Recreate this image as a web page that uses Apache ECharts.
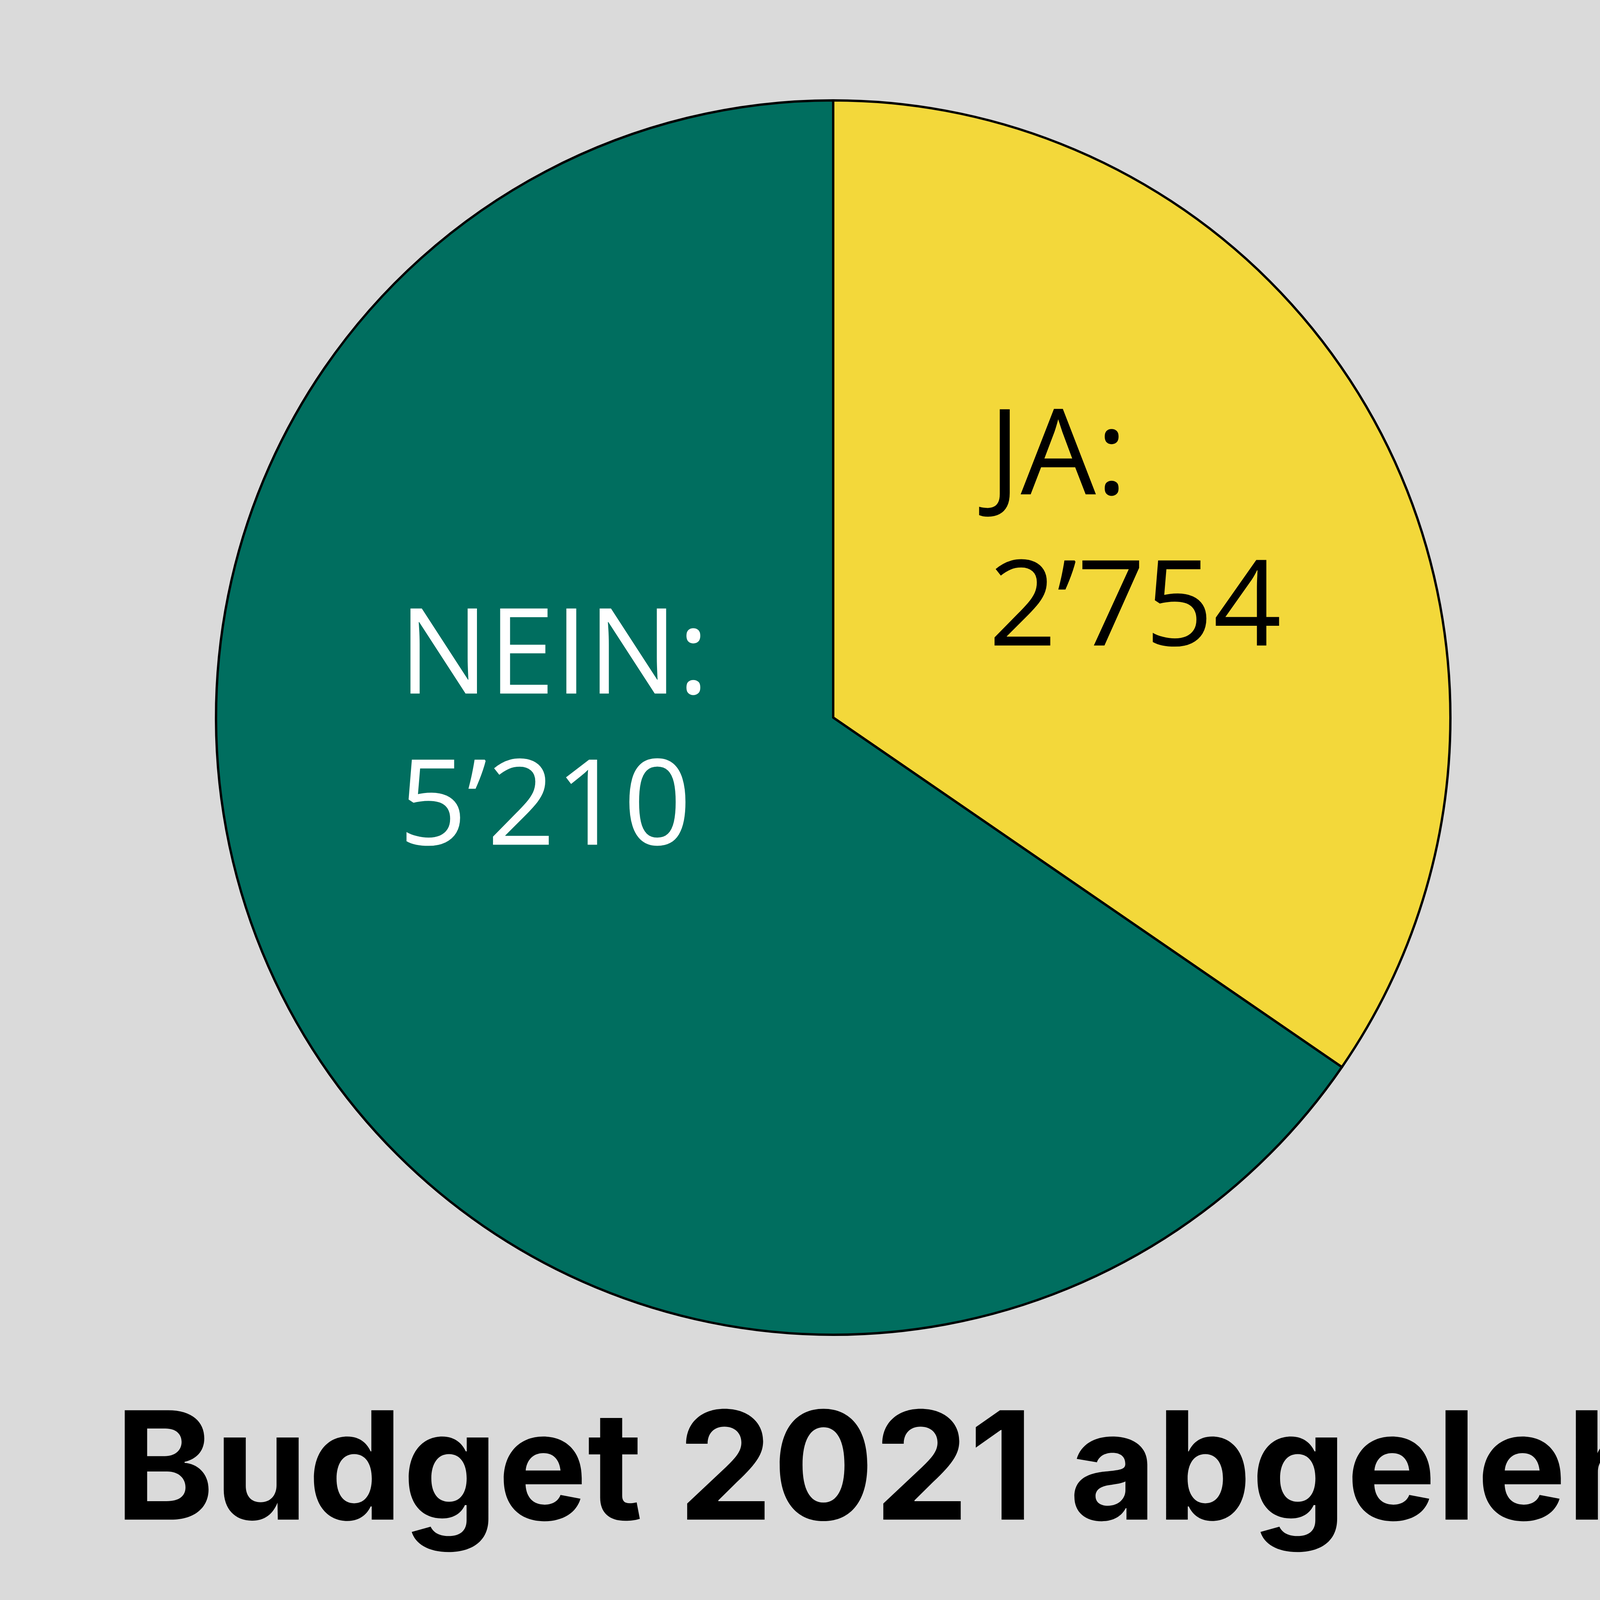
<!DOCTYPE html>
<html>
<head>
<meta charset="utf-8">
<script src="https://cdn.jsdelivr.net/npm/echarts@6/dist/echarts.min.js"></script>
<style>
html,body{margin:0;padding:0;background:#dadada;}
#chart{width:5669px;height:4252px;}
</style>
</head>
<body>
<div id="chart"></div>
<script>
const categories = ['JA', 'NEIN'];
const values = [2754, 5210];
const sliceColors = ['#f3d83a', '#006e5f'];
const labelColors = ['#000000', '#ffffff'];
const titleText = 'Budget 2021 abgelehnt';

function fmt(v) {
  return String(v).replace(/\B(?=(\d{3})+(?!\d))/g, '\u2019');
}

const labelPos = [
  { x: 2531, y: 985 },
  { x: 1021, y: 1495 }
];

const chart = echarts.init(document.getElementById('chart'), null, { renderer: 'canvas' });
chart.setOption({
  backgroundColor: '#dadada',
  animation: false,
  title: {
    text: titleText,
    left: 289,
    top: 3577,
    textStyle: {
      fontFamily: 'Inter',
      fontWeight: 'bold',
      fontSize: 385,
      color: '#000'
    }
  },
  series: [{
    type: 'pie',
    center: [2133, 1837],
    radius: [0, 1580],
    startAngle: 90,
    clockwise: true,
    avoidLabelOverlap: false,
    itemStyle: { borderColor: '#000', borderWidth: 6 },
    emphasis: { disabled: true },
    label: {
      show: true,
      position: 'inside',
      formatter: p => p.name + ':\n' + fmt(p.value),
      fontFamily: 'Open Sans',
      fontSize: 305,
      lineHeight: 387,
      align: 'left'
    },
    labelLine: { show: false },
    labelLayout: function (params) {
      const p = labelPos[params.dataIndex];
      return { x: p.x, y: p.y, align: 'left', verticalAlign: 'top' };
    },
    data: categories.map((c, i) => ({
      name: c,
      value: values[i],
      itemStyle: { color: sliceColors[i] },
      label: { color: labelColors[i] }
    }))
  }]
});
</script>
</body>
</html>
